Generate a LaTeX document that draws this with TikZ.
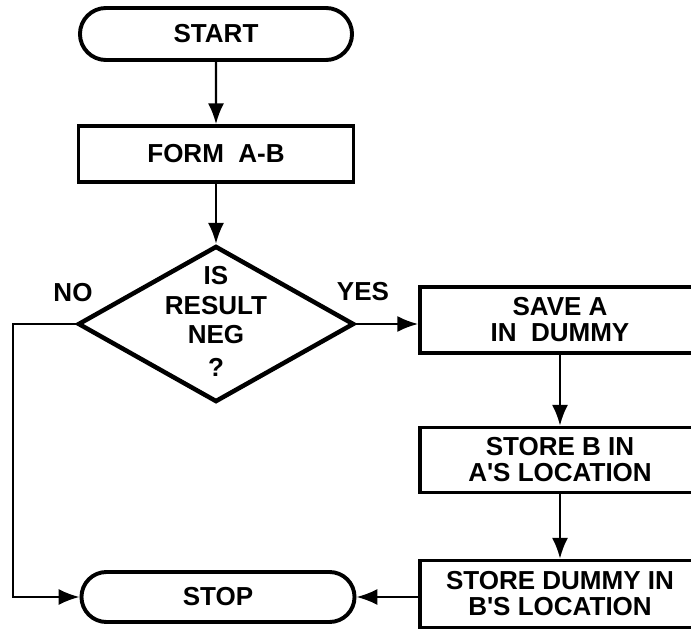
\documentclass[tikz,border=0pt]{standalone}
\usepackage{fontspec}
\setmainfont{Liberation Sans}
\usetikzlibrary{arrows.meta,shapes.geometric,shapes.misc}

\begin{document}
\begin{tikzpicture}[
    x=0.025cm, y=-0.025cm,
    -{Latex[length=0.52cm,width=0.4cm]}, line width=1.6pt,
    every node/.style={font=\fontsize{18.5}{18.5}\selectfont\bfseries, inner sep=0pt, align=center},
    terminal/.style={rounded rectangle, draw, line width=2.8pt, minimum height=1.3cm, minimum width=6.8cm},
    process/.style={rectangle, draw, line width=2.6pt, minimum width=7cm, minimum height=1.65cm},
    decision/.style={diamond, draw, line width=3.2pt, minimum width=6.9cm, minimum height=3.9cm}
]

% picture frame (pixel units)
\useasboundingbox (0,0) rectangle (691,630);

% left column
\node[terminal] (start) at (216,34) {START};
\node[process, minimum width=6.875cm, minimum height=1.4cm] (form) at (216,154) {FORM~~A-B};
\node[decision] (dec) at (216,324) {};
\node (dectext) at (216,321) {IS\\[3pt]RESULT\\[2pt]NEG\\[5pt]?};
\node[terminal, minimum height=1.25cm, minimum width=6.825cm] (stop) at (218,597) {STOP};

% branch labels
\node (nolbl) at (73,293) {NO};
\node (yeslbl) at (363,292) {YES};

% right column
\node[process] (save) at (560,320) {SAVE A\\IN~~DUMMY};
\node[process, minimum height=1.625cm] (storeb) at (560,460) {STORE B IN\\A\textquotesingle S LOCATION};
\node[process, minimum height=1.675cm] (stored) at (560,594) {STORE DUMMY IN\\B\textquotesingle S LOCATION};

\coordinate (nocorner) at (13,324);

% main flow
\draw (start) -- (form);
\draw (form) -- (dec);
\draw (dec.east) -- (save.west |- dec.east);
\draw (save) -- (storeb);
\draw (storeb) -- (stored);
\draw (stored.west |- stop.east) -- (stop.east);

% NO branch
\draw (dec.west) -- (nocorner) |- (stop.west);

\end{tikzpicture}
\end{document}
